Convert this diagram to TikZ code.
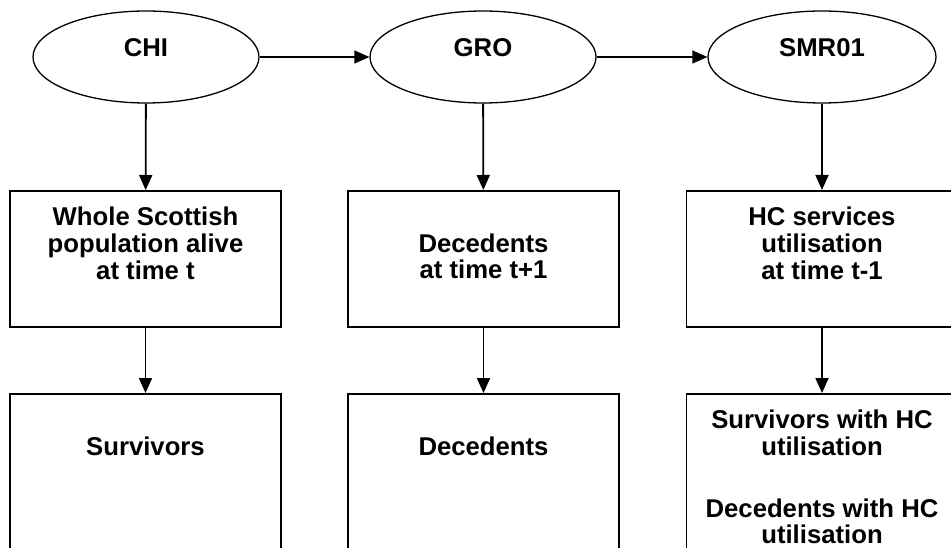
\documentclass[tikz,border=0pt]{standalone}
\usepackage{fontspec}
\setmainfont{Liberation Sans}
\usetikzlibrary{shapes.geometric,arrows.meta}

% text of a box, set from its top edge
\newcommand{\boxtext}[2]{\parbox[c][#1][t]{256pt}{\centering\strut #2}}

\begin{document}
\begin{tikzpicture}[x=1pt, y=-1pt,
    font=\fontsize{25.7}{26.2}\selectfont\bfseries,
    source/.style={ellipse, draw, line width=1.3pt, minimum width=226pt,
      minimum height=92pt, inner sep=0pt, text depth=18pt},
    stage/.style={rectangle, draw, line width=1.6pt, minimum width=271pt,
      inner xsep=0pt, inner ysep=16pt, anchor=north},
    link/.style={-{Triangle[length=15pt,width=13pt]}, line width=1.8pt}]
  \useasboundingbox (0,0) rectangle (951,548);
  \clip (0,0) rectangle (951,548);

  % data sources
  \node[source] (chi) at (146,57) {CHI};
  \node[source] (gro) at (483,57) {GRO};
  \node[source, minimum width=228pt] (smr) at (822,57) {SMR01};

  % first row of boxes
  \node[stage] (alive) at (145.5,190) {\boxtext{104pt}{Whole Scottish\\population alive\\at time t}};
  \node[stage] (dead) at (483.5,190) {\boxtext{104pt}{\\Decedents\\at time t+1}};
  \node[stage] (hc) at (822,190) {\boxtext{104pt}{HC services\\utilisation\\at time t-1}};

  % second row, runs off the page
  \node[stage] (surv) at (145.5,393) {\boxtext{168pt}{\\Survivors}};
  \node[stage] (dec) at (483.5,393) {\boxtext{168pt}{\\Decedents}};
  \node[stage] (hcuse) at (822,393) {\boxtext{168pt}{Survivors with HC\\utilisation\\[35pt]Decedents with HC\\utilisation}};

  \draw[link, line width=1.3pt] (chi) -- (gro);
  \draw[link, line width=1.3pt] (gro) -- (smr);
  \draw[link] (chi) -- (alive);
  \draw[link] (gro) -- (dead);
  \draw[link] (smr) -- (hc);
  \draw[link] (alive) -- (surv);
  \draw[link] (dead) -- (dec);
  \draw[link] (hc) -- (hcuse);
\end{tikzpicture}
\end{document}
